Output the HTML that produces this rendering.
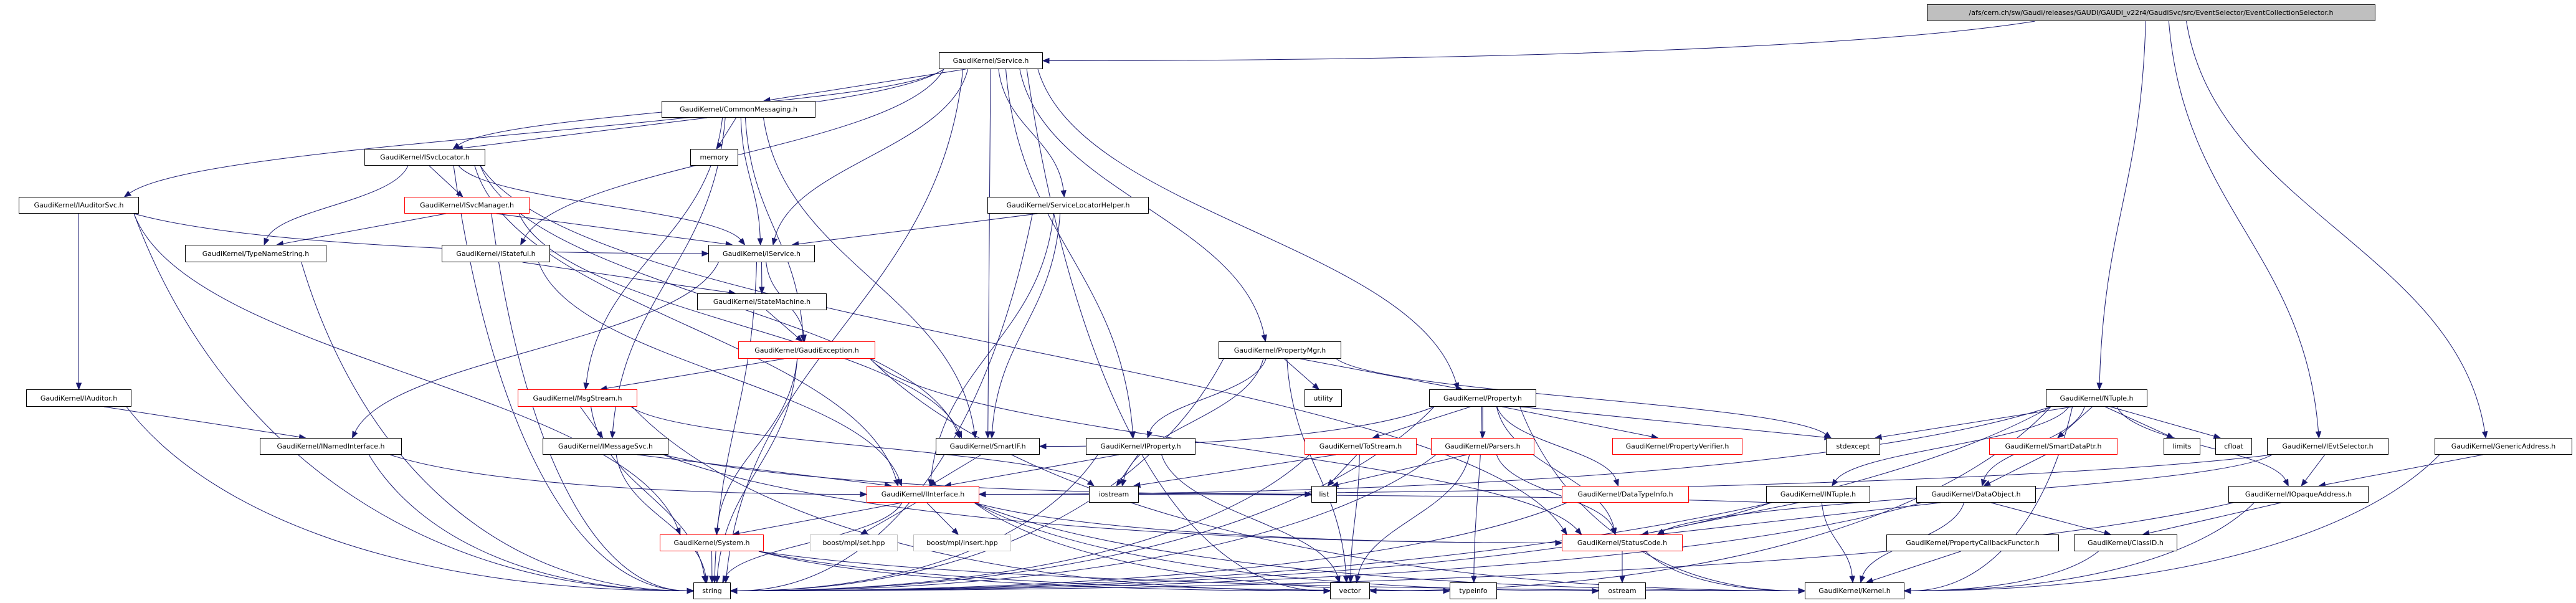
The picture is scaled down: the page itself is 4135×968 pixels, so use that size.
<!DOCTYPE html>
<html><head><meta charset="utf-8"><style>
html,body{margin:0;padding:0;background:#fff;}
#c{position:relative;width:4135px;height:968px;overflow:hidden;background:#fff;}
svg{position:absolute;left:0;top:0;}
.n{position:absolute;box-sizing:border-box;border:1px solid #000;background:#fff;font-family:"DejaVu Sans","Liberation Sans",sans-serif;font-size:11px;color:#000;display:flex;align-items:center;justify-content:center;white-space:nowrap;}
.r{border-color:#f00;}
.g{border-color:#bfbfbf;}
.m{background:#bfbfbf;}
</style></head><body><div id="c">
<svg id="s" width="4135" height="968"></svg>
<div class="n m" id="main" style="left:3093px;top:7px;width:720px;height:27px">/afs/cern.ch/sw/Gaudi/releases/GAUDI/GAUDI_v22r4/GaudiSvc/src/EventSelector/EventCollectionSelector.h</div>
<div class="n" id="svc" style="left:1507px;top:84px;width:167px;height:27px">GaudiKernel/Service.h</div>
<div class="n" id="cm" style="left:1062px;top:162px;width:247px;height:27px">GaudiKernel/CommonMessaging.h</div>
<div class="n" id="isl" style="left:585px;top:239px;width:194px;height:27px">GaudiKernel/ISvcLocator.h</div>
<div class="n" id="mem" style="left:1108px;top:239px;width:77px;height:27px">memory</div>
<div class="n" id="ias" style="left:30px;top:316px;width:193px;height:27px">GaudiKernel/IAuditorSvc.h</div>
<div class="n r" id="ism" style="left:649px;top:316px;width:201px;height:27px">GaudiKernel/ISvcManager.h</div>
<div class="n" id="slh" style="left:1585px;top:316px;width:259px;height:27px">GaudiKernel/ServiceLocatorHelper.h</div>
<div class="n" id="tns" style="left:297px;top:393px;width:227px;height:28px">GaudiKernel/TypeNameString.h</div>
<div class="n" id="ist" style="left:709px;top:393px;width:174px;height:28px">GaudiKernel/IStateful.h</div>
<div class="n" id="is" style="left:1137px;top:393px;width:171px;height:28px">GaudiKernel/IService.h</div>
<div class="n" id="sm" style="left:1119px;top:471px;width:208px;height:27px">GaudiKernel/StateMachine.h</div>
<div class="n r" id="ge" style="left:1185px;top:548px;width:220px;height:28px">GaudiKernel/GaudiException.h</div>
<div class="n" id="pm" style="left:1956px;top:548px;width:197px;height:28px">GaudiKernel/PropertyMgr.h</div>
<div class="n" id="ia" style="left:42px;top:625px;width:169px;height:28px">GaudiKernel/IAuditor.h</div>
<div class="n r" id="ms" style="left:831px;top:625px;width:192px;height:28px">GaudiKernel/MsgStream.h</div>
<div class="n" id="ut" style="left:2094px;top:625px;width:60px;height:28px">utility</div>
<div class="n" id="pr" style="left:2294px;top:625px;width:172px;height:28px">GaudiKernel/Property.h</div>
<div class="n" id="nt" style="left:3284px;top:625px;width:163px;height:28px">GaudiKernel/NTuple.h</div>
<div class="n" id="ini" style="left:417px;top:703px;width:228px;height:27px">GaudiKernel/INamedInterface.h</div>
<div class="n" id="ims" style="left:871px;top:703px;width:202px;height:27px">GaudiKernel/IMessageSvc.h</div>
<div class="n" id="sif" style="left:1502px;top:703px;width:167px;height:27px">GaudiKernel/SmartIF.h</div>
<div class="n" id="ip" style="left:1743px;top:703px;width:176px;height:27px">GaudiKernel/IProperty.h</div>
<div class="n r" id="ts" style="left:2094px;top:703px;width:180px;height:27px">GaudiKernel/ToStream.h</div>
<div class="n r" id="pa" style="left:2297px;top:703px;width:166px;height:27px">GaudiKernel/Parsers.h</div>
<div class="n r" id="pv" style="left:2588px;top:703px;width:209px;height:27px">GaudiKernel/PropertyVerifier.h</div>
<div class="n" id="se" style="left:2931px;top:703px;width:87px;height:27px">stdexcept</div>
<div class="n r" id="sdp" style="left:3193px;top:703px;width:206px;height:27px">GaudiKernel/SmartDataPtr.h</div>
<div class="n" id="li" style="left:3473px;top:703px;width:59px;height:27px">limits</div>
<div class="n" id="cf" style="left:3556px;top:703px;width:59px;height:27px">cfloat</div>
<div class="n" id="ies" style="left:3639px;top:703px;width:195px;height:27px">GaudiKernel/IEvtSelector.h</div>
<div class="n" id="ga" style="left:3908px;top:703px;width:221px;height:27px">GaudiKernel/GenericAddress.h</div>
<div class="n r" id="ii" style="left:1391px;top:780px;width:181px;height:27px">GaudiKernel/IInterface.h</div>
<div class="n" id="io" style="left:1748px;top:780px;width:80px;height:27px">iostream</div>
<div class="n" id="lst" style="left:2105px;top:780px;width:41px;height:27px">list</div>
<div class="n r" id="dti" style="left:2507px;top:780px;width:204px;height:27px">GaudiKernel/DataTypeInfo.h</div>
<div class="n" id="int" style="left:2835px;top:780px;width:167px;height:27px">GaudiKernel/INTuple.h</div>
<div class="n" id="do" style="left:3076px;top:780px;width:192px;height:27px">GaudiKernel/DataObject.h</div>
<div class="n" id="ioa" style="left:3577px;top:780px;width:225px;height:27px">GaudiKernel/IOpaqueAddress.h</div>
<div class="n r" id="sys" style="left:1059px;top:858px;width:167px;height:27px">GaudiKernel/System.h</div>
<div class="n g" id="bs" style="left:1300px;top:858px;width:141px;height:27px">boost/mpl/set.hpp</div>
<div class="n g" id="bi" style="left:1466px;top:858px;width:157px;height:27px">boost/mpl/insert.hpp</div>
<div class="n r" id="sc" style="left:2507px;top:858px;width:194px;height:27px">GaudiKernel/StatusCode.h</div>
<div class="n" id="pcf" style="left:3028px;top:858px;width:277px;height:27px">GaudiKernel/PropertyCallbackFunctor.h</div>
<div class="n" id="cid" style="left:3329px;top:858px;width:166px;height:27px">GaudiKernel/ClassID.h</div>
<div class="n" id="str" style="left:1113px;top:935px;width:60px;height:27px">string</div>
<div class="n" id="vec" style="left:2135px;top:935px;width:64px;height:27px">vector</div>
<div class="n" id="ti" style="left:2327px;top:935px;width:76px;height:27px">typeinfo</div>
<div class="n" id="os" style="left:2566px;top:935px;width:76px;height:27px">ostream</div>
<div class="n" id="ke" style="left:2897px;top:935px;width:160px;height:27px">GaudiKernel/Kernel.h</div>
</div>
<script>
(function(){
var E={
main:"svc nt ies ga",
svc:"cm isl ias ist is slh pm pr ip sif str vec",
cm:"isl mem is sif ms ims ge",
isl:"ism tns is sif ii str sc",
ias:"is ia sys str",
ism:"tns is sif str",
tns:"str",
ist:"sm ii",
is:"sm ini ge str",
sm:"ge",
slh:"is sif str ii",
ge:"ms sys str sc ke",
ms:"ims str io vec",
ia:"ini str",
ini:"ii str",
ims:"ii str lst sc",
pm:"pr ip ut io vec se str",
pr:"sif ts pa pv sc se ti str ke dti",
sif:"ii",
ip:"ii io str vec",
ts:"io lst vec str",
pa:"lst sc vec str",
ii:"sys bs bi sc str ti os ke",
sys:"str ti vec ke",
dti:"str",
sc:"os ke",
nt:"se sdp li cf int do ioa str vec ke ii",
sdp:"do",
ies:"ioa ii sc",
ga:"ioa ke",
int:"ii ke sc str",
do:"cid sc str ke",
ioa:"cid ke str",
pcf:"ke",
cid:"ke"
};
function R(id){var e=document.getElementById(id);var x=e.offsetLeft,y=e.offsetTop,w=e.offsetWidth,h=e.offsetHeight;return{x1:x,y1:y,x2:x+w,y2:y+h,cx:x+w/2,cy:y+h/2};}
function cl(v,a,b){return Math.max(a,Math.min(b,v));}
var out="";
for(var a in E){E[a].split(" ").forEach(function(b){
var s=R(a),t=R(b);var dx=t.cx-s.cx;var dy=t.y1-s.y2;
var sx,sy,c1x,c1y,tx,ty,c2x,c2y;
var sg=dx>0?1:-1;
sx=cl(s.cx+dx*0.1,s.x1+8,s.x2-8);sy=s.y2;
var flat=Math.abs(dx)>12*Math.max(dy,1);
var bottomSide=(t.y1>=930&&Math.abs(dx)>350&&Math.abs(dx)>0.6*dy);
if(flat||bottomSide){
 tx=dx>0?t.x1:t.x2;ty=t.cy;
 c1x=sx+sg*Math.abs(tx-sx)*0.15;c1y=sy+(ty-sy)*0.6;
 c2x=tx-sg*Math.abs(tx-sx)*0.5;c2y=ty;
}else if(dy<100){
 tx=cl(t.cx-dx*0.1,t.x1+8,t.x2-8);ty=t.y1;
 c1x=sx+(tx-sx)*0.33;c1y=sy+(ty-sy)*0.33;c2x=sx+(tx-sx)*0.66;c2y=sy+(ty-sy)*0.66;
}else{
 tx=cl(t.cx-dx*0.05,t.x1+8,t.x2-8);ty=t.y1;var v=(ty-sy)*0.45;
 c1x=sx+(tx-sx)*0.1;c1y=sy+v;c2x=tx-(tx-sx)*0.1;c2y=ty-v;
}
var ux=tx-c2x,uy=ty-c2y,L=Math.sqrt(ux*ux+uy*uy)||1;ux/=L;uy/=L;
var bx=tx-ux*10,by=ty-uy*10;
out+='<path d="M'+sx+','+sy+' C'+c1x+','+c1y+' '+c2x+','+c2y+' '+bx+','+by+'" fill="none" stroke="#191970" stroke-width="1"/>';
out+='<polygon points="'+tx+','+ty+' '+(bx-uy*4)+','+(by+ux*4)+' '+(bx+uy*4)+','+(by-ux*4)+'" fill="#191970" stroke="#191970"/>';
});}
document.getElementById("s").innerHTML=out;
})();
</script>
</body></html>
